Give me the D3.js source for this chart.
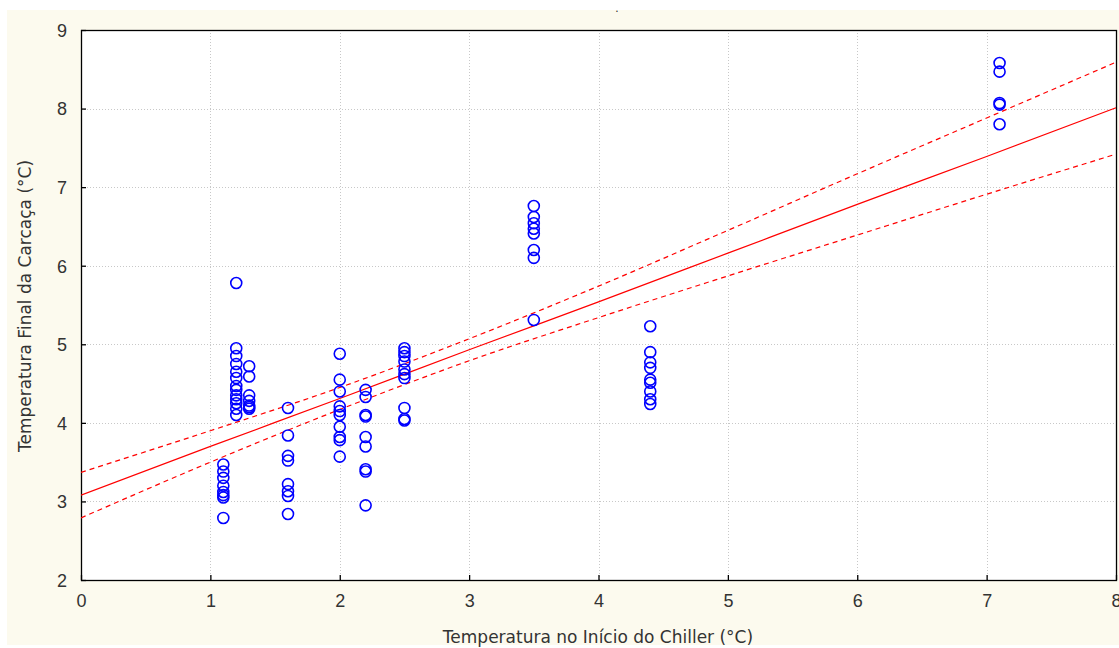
<!DOCTYPE html>
<html>
<head>
<meta charset="utf-8">
<script src="https://cdn.jsdelivr.net/npm/d3@7"></script>
<style>
  html, body { margin: 0; padding: 0; background: #ffffff; }
  svg { display: block; }
</style>
</head>
<body>
<svg id="chart" width="1119" height="648"></svg>
<script>
// Chiller inlet temperature (°C) for each group of carcasses
const chillerTemps = [1.1, 1.2, 1.3, 1.6, 2.0, 2.2, 2.5, 3.5, 4.4, 7.1];

// Final carcass temperature (°C) observed in each group
const finalTemps = [
  [3.47, 3.38, 3.30, 3.20, 3.12, 3.08, 3.05, 2.79],
  [5.78, 4.95, 4.85, 4.75, 4.65, 4.57, 4.47, 4.42, 4.35, 4.30, 4.25, 4.18, 4.10],
  [4.72, 4.59, 4.35, 4.28, 4.22, 4.20, 4.18],
  [4.19, 3.84, 3.58, 3.52, 3.22, 3.13, 3.07, 2.84],
  [4.88, 4.55, 4.40, 4.21, 4.15, 4.10, 3.95, 3.82, 3.78, 3.57],
  [4.42, 4.33, 4.10, 4.08, 3.82, 3.70, 3.41, 3.38, 2.95],
  [4.95, 4.90, 4.85, 4.78, 4.68, 4.62, 4.57, 4.19, 4.05, 4.03],
  [6.76, 6.62, 6.54, 6.47, 6.41, 6.20, 6.10, 5.31],
  [5.23, 4.90, 4.77, 4.70, 4.55, 4.51, 4.40, 4.30, 4.24],
  [8.58, 8.47, 8.07, 8.05, 7.80]
];

// Fitted regression line and its 95% confidence band
const fitX     = [0, 1, 2, 3, 4, 5, 6, 7, 8];
const fitY     = [3.08, 3.70, 4.31, 4.93, 5.54, 6.16, 6.78, 7.39, 8.01];
const bandHigh = [3.37, 3.90, 4.45, 5.07, 5.74, 6.45, 7.17, 7.88, 8.59];
const bandLow  = [2.79, 3.50, 4.17, 4.79, 5.34, 5.87, 6.39, 6.91, 7.42];

// Axis ticks and titles
const xTicks = [0, 1, 2, 3, 4, 5, 6, 7, 8];
const yTicks = [2, 3, 4, 5, 6, 7, 8, 9];
const xTitle = "Temperatura no Início do Chiller (°C)";
const yTitle = "Temperatura Final da Carcaça (°C)";

const svg = d3.select("#chart");
const W = 1119, H = 648;
const plot = { left: 81, top: 30, right: 1116, bottom: 580 };
const tickFont = "'Liberation Sans', Arial, sans-serif";
const titleFont = "'DejaVu Sans', Verdana, sans-serif";
const textColor = "#333333";

// cream page background
svg.append("rect")
  .attr("x", 7).attr("y", 10)
  .attr("width", W - 7).attr("height", H - 13)
  .attr("fill", "#fcfaee");

const x = d3.scaleLinear().domain([0, 8]).range([plot.left, plot.right]);
const y = d3.scaleLinear().domain([2, 9]).range([plot.bottom, plot.top]);

// plot area
svg.append("rect")
  .attr("x", plot.left).attr("y", plot.top)
  .attr("width", plot.right - plot.left).attr("height", plot.bottom - plot.top)
  .attr("fill", "#ffffff");

// dotted grid
const grid = svg.append("g")
  .attr("stroke", "#c8c8c8")
  .attr("stroke-width", 1)
  .attr("stroke-dasharray", "1,2");
grid.selectAll("line.v").data(xTicks.slice(1, -1)).join("line")
  .attr("class", "v")
  .attr("x1", d => Math.round(x(d)) + 0.5).attr("x2", d => Math.round(x(d)) + 0.5)
  .attr("y1", plot.top).attr("y2", plot.bottom);
grid.selectAll("line.h").data(yTicks.slice(1, -1)).join("line")
  .attr("class", "h")
  .attr("y1", d => Math.round(y(d)) + 0.5).attr("y2", d => Math.round(y(d)) + 0.5)
  .attr("x1", plot.left).attr("x2", plot.right);

// axes with inward ticks
const xAxis = d3.axisBottom(x).tickValues(xTicks).tickSize(-5).tickPadding(14)
  .tickFormat(d3.format("d"));
const yAxis = d3.axisLeft(y).tickValues(yTicks).tickSize(-5).tickPadding(14)
  .tickFormat(d3.format("d"));

const gx = svg.append("g").attr("transform", `translate(0,${plot.bottom})`).call(xAxis);
const gy = svg.append("g").attr("transform", `translate(${plot.left},0)`).call(yAxis);
[gx, gy].forEach(g => {
  g.select(".domain").remove();
  g.selectAll(".tick line").attr("stroke", "#000").attr("stroke-width", 1.3);
  g.selectAll(".tick text")
    .attr("fill", textColor)
    .style("font-family", tickFont)
    .style("font-size", "18px");
});
gy.selectAll(".tick text").attr("dy", "0.35em");
gx.selectAll(".tick text").attr("dy", "0.71em");

// plot frame
svg.append("rect")
  .attr("x", plot.left + 0.5).attr("y", plot.top + 0.5)
  .attr("width", plot.right - plot.left).attr("height", plot.bottom - plot.top)
  .attr("fill", "none").attr("stroke", "#000").attr("stroke-width", 1.3);

// regression line and confidence band
const line = d3.line().x(d => x(d[0])).y(d => y(d[1])).curve(d3.curveMonotoneX);
svg.append("clipPath").attr("id", "plotClip")
  .append("rect")
  .attr("x", plot.left).attr("y", plot.top)
  .attr("width", plot.right - plot.left).attr("height", plot.bottom - plot.top);

const fitLayer = svg.append("g").attr("clip-path", "url(#plotClip)");
fitLayer.append("path")
  .datum(d3.zip(fitX, fitY))
  .attr("d", line)
  .attr("fill", "none").attr("stroke", "#ff0000").attr("stroke-width", 1.2);
[bandHigh, bandLow].forEach(band => {
  fitLayer.append("path")
    .datum(d3.zip(fitX, band))
    .attr("d", line)
    .attr("fill", "none").attr("stroke", "#ff0000").attr("stroke-width", 1.2)
    .attr("stroke-dasharray", "5,4");
});

// observations
const points = chillerTemps.flatMap((t, i) => finalTemps[i].map(v => ({ t, v })));
svg.append("g")
  .selectAll("circle").data(points).join("circle")
  .attr("cx", d => x(d.t))
  .attr("cy", d => y(d.v))
  .attr("r", 5.5)
  .attr("fill", "none")
  .attr("stroke", "#0000ff")
  .attr("stroke-width", 1.6);

// axis titles
svg.append("text")
  .attr("x", 598)
  .attr("y", 643)
  .attr("text-anchor", "middle")
  .attr("fill", textColor)
  .style("font-family", titleFont)
  .style("font-size", "17px")
  .text(xTitle);

svg.append("text")
  .attr("transform", `translate(31,306) rotate(-90)`)
  .attr("text-anchor", "middle")
  .attr("fill", textColor)
  .style("font-family", titleFont)
  .style("font-size", "17px")
  .text(yTitle);

// empty chart title marker
svg.append("text")
  .attr("x", 617).attr("y", 12)
  .attr("text-anchor", "middle")
  .attr("fill", textColor)
  .style("font-family", tickFont)
  .style("font-size", "12px")
  .text(".");
</script>
</body>
</html>
